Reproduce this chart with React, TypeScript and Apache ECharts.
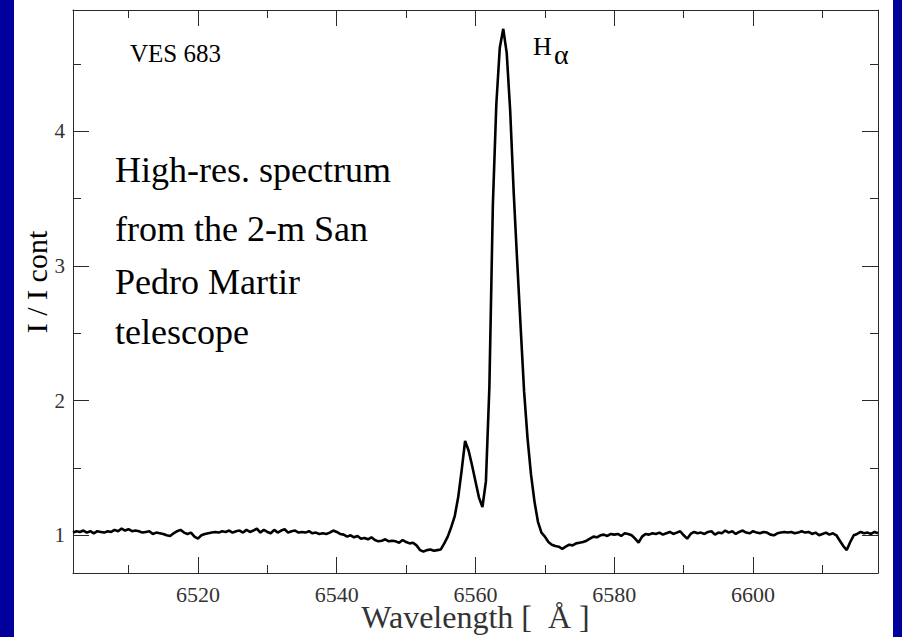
import React, { useEffect, useRef } from "react";
import * as echarts from "echarts";

// Wavelength axis (Å) and intensity axis (I / I cont)
const X_MIN = 6502;
const X_MAX = 6618;
const Y_MIN = 0.72;
const Y_MAX = 4.9;
const X_MAJOR = [6520, 6540, 6560, 6580, 6600];
const X_MINOR = [6510, 6530, 6550, 6570, 6590, 6610];
const Y_MAJOR = [1, 2, 3, 4];
const Y_MINOR = [1.5, 2.5, 3.5, 4.5];

// Each row: [wavelength λ, I at λ, I at λ + 0.5 Å]
const spectrum: number[][] = [
  [6502, 1.02, 1.03],
  [6503, 1.025, 1.035],
  [6504, 1.02, 1.03],
  [6505, 1.015, 1.03],
  [6506, 1.025, 1.02],
  [6507, 1.03, 1.025],
  [6508, 1.04, 1.03],
  [6509, 1.05, 1.035],
  [6510, 1.045, 1.03],
  [6511, 1.035, 1.03],
  [6512, 1.02, 1.025],
  [6513, 1.03, 1.01],
  [6514, 1.02, 1.015],
  [6515, 1.01, 1.0],
  [6516, 0.995, 1.015],
  [6517, 1.03, 1.04],
  [6518, 1.02, 1.01],
  [6519, 1.02, 0.99],
  [6520, 0.975, 1.0],
  [6521, 1.01, 1.015],
  [6522, 1.02, 1.025],
  [6523, 1.02, 1.03],
  [6524, 1.025, 1.035],
  [6525, 1.02, 1.03],
  [6526, 1.035, 1.02],
  [6527, 1.04, 1.025],
  [6528, 1.035, 1.05],
  [6529, 1.02, 1.04],
  [6530, 1.025, 1.015],
  [6531, 1.04, 1.02],
  [6532, 1.035, 1.045],
  [6533, 1.02, 1.03],
  [6534, 1.035, 1.02],
  [6535, 1.025, 1.02],
  [6536, 1.03, 1.015],
  [6537, 1.02, 1.01],
  [6538, 1.015, 1.01],
  [6539, 1.02, 1.035],
  [6540, 1.025, 1.01],
  [6541, 1.005, 0.99],
  [6542, 1.0, 0.985],
  [6543, 0.995, 0.975],
  [6544, 0.98, 0.97],
  [6545, 0.985, 0.965],
  [6546, 0.955, 0.96],
  [6547, 0.97, 0.955],
  [6548, 0.96, 0.955],
  [6549, 0.945, 0.965],
  [6550, 0.95, 0.94],
  [6551, 0.945, 0.925],
  [6552, 0.89, 0.88],
  [6553, 0.89, 0.895],
  [6554, 0.885, 0.89],
  [6555, 0.895, 0.94],
  [6556, 0.99, 1.06],
  [6557, 1.14, 1.28],
  [6558, 1.48, 1.7],
  [6559, 1.63, 1.52],
  [6560, 1.4, 1.28],
  [6561, 1.21, 1.4],
  [6562, 2.1, 3.45],
  [6563, 4.2, 4.62],
  [6564, 4.76, 4.58],
  [6565, 4.15, 3.55],
  [6566, 3.04, 2.55],
  [6567, 2.07, 1.72],
  [6568, 1.45, 1.25],
  [6569, 1.1, 1.02],
  [6570, 0.99, 0.95],
  [6571, 0.93, 0.92],
  [6572, 0.915, 0.9],
  [6573, 0.915, 0.93],
  [6574, 0.925, 0.94],
  [6575, 0.945, 0.95],
  [6576, 0.96, 0.975],
  [6577, 0.99, 0.985],
  [6578, 1.0, 1.005],
  [6579, 0.995, 1.01],
  [6580, 1.005, 1.01],
  [6581, 0.995, 1.015],
  [6582, 1.01, 1.0],
  [6583, 0.975, 0.945],
  [6584, 0.99, 1.01],
  [6585, 1.005, 1.015],
  [6586, 1.01, 1.02],
  [6587, 1.005, 1.015],
  [6588, 1.025, 1.01],
  [6589, 1.02, 1.03],
  [6590, 1.0, 0.975],
  [6591, 1.01, 1.025],
  [6592, 1.015, 1.02],
  [6593, 1.01, 1.025],
  [6594, 1.03, 1.005],
  [6595, 1.02, 1.015],
  [6596, 1.035, 1.02],
  [6597, 1.03, 1.01],
  [6598, 1.025, 1.035],
  [6599, 1.02, 1.015],
  [6600, 1.03, 1.02],
  [6601, 1.015, 1.025],
  [6602, 1.02, 1.005],
  [6603, 1.0, 1.015],
  [6604, 1.02, 1.025],
  [6605, 1.02, 1.025],
  [6606, 1.015, 1.02],
  [6607, 1.03, 1.02],
  [6608, 1.025, 1.01],
  [6609, 1.02, 1.0],
  [6610, 1.01, 1.02],
  [6611, 1.005, 1.015],
  [6612, 1.0, 0.96],
  [6613, 0.92, 0.89],
  [6614, 0.95, 1.0],
  [6615, 1.01, 1.025],
  [6616, 1.015, 1.02],
  [6617, 1.01, 1.025],
  [6618, 1.015],
];

const X_TITLE = "Wavelength [\u00a0\u00a0Å ]";
const Y_TITLE = "I / I cont";
const STAR_LABEL = "VES 683";
const NOTE_LINES = [
  "High-res. spectrum",
  "from the 2-m San",
  "Pedro Martir",
  "telescope",
];

const SERIF = "Liberation Serif";
const AXIS_COLOR = "#2a2a2a";
const LABEL_COLOR = "#333333";
const BLUE = "#00009c";

function buildSeriesData(): number[][] {
  const out: number[][] = [];
  for (const row of spectrum) {
    out.push([row[0], row[1]]);
    if (row.length > 2) out.push([row[0] + 0.5, row[2]]);
  }
  return out;
}

const plainNumber = (v: number) => String(v);

function xAxisDef(position: "top" | "bottom", major: boolean, withLabels: boolean): any {
  return {
    type: "value",
    position,
    min: X_MIN,
    max: X_MAX,
    axisLine: { show: major, lineStyle: { color: AXIS_COLOR, width: 1 } },
    axisTick: {
      show: true,
      inside: true,
      length: major ? 16 : 8,
      customValues: major ? X_MAJOR : X_MINOR,
      lineStyle: { color: AXIS_COLOR, width: 1 },
    },
    axisLabel: withLabels
      ? {
          show: true,
          customValues: X_MAJOR,
          formatter: plainNumber,
          margin: 10,
          fontSize: 22,
          fontFamily: SERIF,
          color: LABEL_COLOR,
        }
      : { show: false },
    splitLine: { show: false },
    minorTick: { show: false },
    ...(withLabels
      ? {
          name: X_TITLE,
          nameLocation: "middle",
          nameGap: 28,
          nameMoveOverlap: false,
          nameTextStyle: { fontSize: 32, fontFamily: SERIF, color: LABEL_COLOR },
        }
      : {}),
  };
}

function yAxisDef(position: "left" | "right", major: boolean, withLabels: boolean): any {
  return {
    type: "value",
    position,
    min: Y_MIN,
    max: Y_MAX,
    axisLine: { show: major, lineStyle: { color: AXIS_COLOR, width: 1 } },
    axisTick: {
      show: true,
      inside: true,
      length: major ? 16 : 8,
      customValues: major ? Y_MAJOR : Y_MINOR,
      lineStyle: { color: AXIS_COLOR, width: 1 },
    },
    axisLabel: withLabels
      ? {
          show: true,
          customValues: Y_MAJOR,
          formatter: plainNumber,
          margin: 8,
          fontSize: 21,
          fontFamily: SERIF,
          color: LABEL_COLOR,
        }
      : { show: false },
    splitLine: { show: false },
    minorTick: { show: false },
  };
}

function textEl(text: string, x: number, y: number, size: number, extra: any = {}): any {
  const align = extra.align || "left";
  const rest = { ...extra };
  delete rest.align;
  return {
    type: "text",
    x,
    y,
    silent: true,
    ...rest,
    style: {
      text,
      fontSize: size,
      fontFamily: SERIF,
      fill: "#000",
      textAlign: align,
      textVerticalAlign: "middle",
      align,
      verticalAlign: "middle",
    },
  };
}

export default function App() {
  const ref = useRef<HTMLDivElement>(null);

  useEffect(() => {
    if (!ref.current) return;
    const chart = echarts.init(ref.current, undefined, { renderer: "svg" });
    const noteMiddles = [170, 228.5, 281.5, 331.5];
    chart.setOption({
      animation: false,
      backgroundColor: "#ffffff",
      grid: {
        left: 73,
        right: 24,
        top: 10,
        bottom: 64,
        containLabel: false,
        outerBoundsMode: "none",
      },
      xAxis: [
        xAxisDef("bottom", true, true),
        xAxisDef("bottom", false, false),
        xAxisDef("top", true, false),
        xAxisDef("top", false, false),
      ],
      yAxis: [
        yAxisDef("left", true, true),
        yAxisDef("left", false, false),
        yAxisDef("right", true, false),
        yAxisDef("right", false, false),
      ],
      series: [
        {
          type: "line",
          xAxisIndex: 0,
          yAxisIndex: 0,
          data: buildSeriesData(),
          showSymbol: false,
          symbol: "none",
          clip: true,
          lineStyle: { color: "#000", width: 2.6 },
          silent: true,
        },
      ],
      graphic: [
        { type: "rect", shape: { x: 0, y: 0, width: 14, height: 637 }, style: { fill: BLUE }, silent: true },
        { type: "rect", shape: { x: 893, y: 0, width: 9, height: 637 }, style: { fill: BLUE }, silent: true },
        textEl(STAR_LABEL, 130, 53.7, 25),
        textEl("H", 533, 46.5, 26),
        textEl("α", 554, 54, 28),
        ...NOTE_LINES.map((t, i) => textEl(t, 115, noteMiddles[i], 36)),
        textEl(Y_TITLE, 36, 282, 30, { rotation: Math.PI / 2, align: "center" }),
      ],
    });
    return () => chart.dispose();
  }, []);

  return (
    <div
      ref={ref}
      style={{ position: "absolute", left: 0, top: 0, width: 902, height: 637, background: "#fff" }}
    />
  );
}
